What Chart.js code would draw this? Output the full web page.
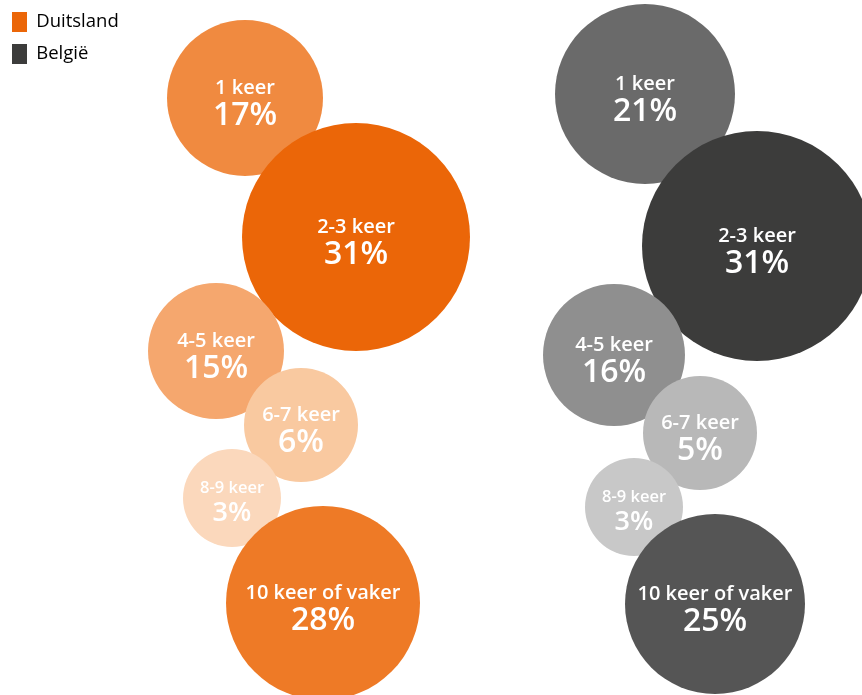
<!DOCTYPE html>
<html>
<head>
<meta charset="utf-8">
<script src="https://cdn.jsdelivr.net/npm/chart.js@4.4.1/dist/chart.umd.min.js"></script>
<style>
html,body{margin:0;padding:0;background:#fff;}
#wrap{width:862px;height:695px;position:relative;}
</style>
</head>
<body>
<div id="wrap"><canvas id="c" width="862" height="695"></canvas></div>
<script>
// Data
const categories = ["1 keer","2-3 keer","4-5 keer","6-7 keer","8-9 keer","10 keer of vaker"];
const seriesNames = ["Duitsland","België"];
const duitslandValues = [17,31,15,6,3,28];
const belgieValues = [21,31,16,5,3,25];

// Layout of the packed bubbles (positions in page pixels, radii in pixels)
const deX = [245,356,216,301,232,323];
const deY = [98,237,351,425,498,603];
const deR = [78,114,68,57,49,97];
const beX = [645,757,614,700,634,715];
const beY = [94,246,355,433,507,604];
const beR = [90,115,71,57,49,90];

// Styles
const deColors = ["#F08A40","#EB6608","#F5A76E","#F9C9A0","#FBD8BC","#EE7A26"];
const beColors = ["#6A6A6A","#3C3C3B","#8F8F8F","#B8B8B8","#C8C8C8","#555555"];
const legendColors = ["#EB6608","#3C3C3B"];
const FONT = "'Open Sans', sans-serif";

function pts(xs, ys, rs, vals){
  return vals.map((v,i)=>({x:xs[i], y:ys[i], r:rs[i], v:v, cat:categories[i]}));
}

const labelPlugin = {
  id:'bubbleLabels',
  afterDatasetsDraw(chart){
    const ctx = chart.ctx;
    ctx.save();
    ctx.fillStyle = '#ffffff';
    ctx.textAlign = 'center';
    ctx.textBaseline = 'middle';
    chart.data.datasets.forEach((ds, di)=>{
      const meta = chart.getDatasetMeta(di);
      meta.data.forEach((el, i)=>{
        const d = ds.data[i];
        const small = d.r < 52;
        const f1 = small ? 16.5 : 20;
        const f2 = small ? 27 : 32;
        ctx.font = '600 ' + f1 + 'px ' + FONT;
        ctx.fillText(d.cat, el.x, el.y - 10);
        ctx.font = '600 ' + f2 + 'px ' + FONT;
        ctx.fillText(d.v + '%', el.x, el.y + (small ? 15 : 18));
      });
    });
    ctx.restore();
  }
};

new Chart(document.getElementById('c'), {
  type:'bubble',
  data:{
    datasets:[
      {label:seriesNames[0], data:pts(deX,deY,deR,duitslandValues), backgroundColor:deColors, borderWidth:0, hoverBorderWidth:0},
      {label:seriesNames[1], data:pts(beX,beY,beR,belgieValues), backgroundColor:beColors, borderWidth:0, hoverBorderWidth:0}
    ]
  },
  options:{
    responsive:false,
    animation:false,
    events:[],
    layout:{padding:0, autoPadding:false},
    clip:false,
    scales:{
      x:{type:'linear', min:0, max:862, display:false},
      y:{type:'linear', min:0, max:695, reverse:true, display:false}
    },
    plugins:{
      tooltip:{enabled:false},
      legend:{
        position:'chartArea',
        align:'start',
        labels:{
          boxWidth:15, boxHeight:20, padding:12,
          color:'#1d1d1b',
          font:{family:FONT, size:18.5},
          generateLabels(chart){
            return chart.data.datasets.map((ds,i)=>({
              text:ds.label, fillStyle:legendColors[i], strokeStyle:legendColors[i], lineWidth:0, datasetIndex:i, hidden:false
            }));
          }
        }
      }
    }
  },
  plugins:[labelPlugin]
});
</script>
</body>
</html>
